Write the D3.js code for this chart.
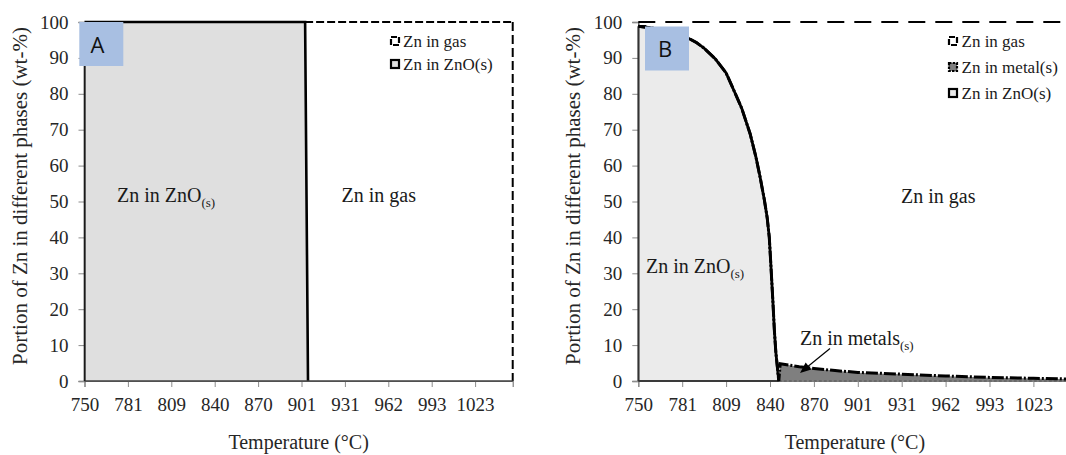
<!DOCTYPE html>
<html>
<head>
<meta charset="utf-8">
<script src="https://cdn.jsdelivr.net/npm/d3@7"></script>
</head>
<body style="margin:0;background:#fff">
<svg id="chart" width="1066" height="455" style="display:block;font-family:'Liberation Serif'"></svg>
<script>
// ---------------- DATA ----------------
const tickTemps = [750, 781, 809, 840, 870, 901, 931, 962, 993, 1023];
const endTemp = 1049;
const yTickValues = [0, 10, 20, 30, 40, 50, 60, 70, 80, 90, 100];

// Panel A
const tempsA = [750, 903.5, 905.5, 1049];
const znoA   = [100, 100, 0, 0];
const gasA   = [0, 0, 100, 100];

// Panel B
const tempsB = [750, 760, 770, 777, 784, 790, 795, 802, 809, 815, 820, 826, 830, 833, 836, 838, 839.5, 840.5, 842, 843, 844, 845, 846, 847, 855, 860, 870, 885, 901, 931, 962, 993, 1023, 1049];
const znoB   = [98.8, 98.3, 97.5, 96.8, 95.7, 94.3, 92.7, 89.8, 85.8, 80.5, 76.0, 68.8, 62.5, 56.8, 50.5, 45.5, 40.0, 33.0, 22.0, 14.0, 8.0, 4.0, 0, 0, 0, 0, 0, 0, 0, 0, 0, 0, 0, 0];
const metalB = [0, 0, 0, 0, 0, 0, 0, 0, 0, 0, 0, 0, 0, 0, 0, 0, 0, 0, 0, 0, 0, 0, 0, 4.8, 4.3, 4.0, 3.5, 2.9, 2.4, 1.9, 1.4, 1.0, 0.75, 0.55];
const gasB   = [1.2, 1.7, 2.5, 3.2, 4.3, 5.7, 7.3, 10.2, 14.2, 19.5, 24.0, 31.2, 37.5, 43.2, 49.5, 54.5, 60.0, 67.0, 78.0, 86.0, 92.0, 96.0, 100, 95.2, 95.7, 96.0, 96.5, 97.1, 97.6, 98.1, 98.6, 99.0, 99.25, 99.45];

const legendA = ["Zn in gas", "Zn in ZnO(s)"];
const legendB = ["Zn in gas", "Zn in metal(s)", "Zn in ZnO(s)"];

const yTitle = "Portion of Zn in different phases (wt-%)";
const xTitle = "Temperature (°C)";

// ---------------- DRAW ----------------
const svg = d3.select("#chart");
const SERIF = "Liberation Serif";
const TOP = 22, BOTTOM = 381;

function makeX(left, step) {
  const dom = tickTemps.concat([endTemp]);
  const rng = tickTemps.map((t, i) => left + i * step);
  rng.push(left + (9 + (endTemp - 1023) / 30) * step);
  return d3.scaleLinear().domain(dom).range(rng);
}
const y = d3.scaleLinear().domain([0, 100]).range([BOTTOM, TOP]);

function serifText(sel, size) {
  return sel.attr("font-family", SERIF).attr("font-size", size);
}

function drawAxes(g, x, left) {
  const ya = g.append("g").attr("transform", `translate(${left},0)`)
    .call(d3.axisLeft(y).tickValues(yTickValues).tickSize(6).tickPadding(10).tickFormat(d3.format("d")));
  ya.attr("font-family", SERIF).attr("font-size", 19);
  ya.select(".domain").attr("stroke", "#595959").attr("stroke-width", 1.5);
  ya.selectAll(".tick line").attr("stroke", "#8c8c8c");
  serifText(ya.selectAll(".tick text"), 19).attr("fill", "#262626");

  const xa = g.append("g").attr("transform", `translate(0,${BOTTOM})`)
    .call(d3.axisBottom(x).tickValues(tickTemps).tickSize(6).tickPadding(11).tickFormat(d3.format("d")));
  xa.attr("font-family", SERIF).attr("font-size", 19);
  xa.select(".domain").attr("stroke", "#7f7f7f").attr("stroke-width", 1.2);
  xa.selectAll(".tick line").attr("stroke", "#8c8c8c");
  serifText(xa.selectAll(".tick text"), 19).attr("fill", "#262626");
}

function titles(g, x, left) {
  const [r0, r1] = [x(750), x(endTemp)];
  serifText(g.append("text"), 20).attr("x", (r0 + r1) / 2).attr("y", 449)
    .attr("text-anchor", "middle").attr("fill", "#262626").text(xTitle);
  serifText(g.append("text"), 21).attr("transform", `translate(${left - 58},196) rotate(-90)`)
    .attr("text-anchor", "middle").attr("fill", "#262626").text(yTitle);
}

function subLabel(g, px, py, main, sub) {
  const t = serifText(g.append("text"), 20).attr("x", px).attr("y", py).attr("fill", "#1a1a1a");
  t.append("tspan").text(main);
  if (sub) t.append("tspan").attr("dy", 5).attr("font-size", 13).text(sub);
}

function panelTag(g, bx, by, letter, tx, ty) {
  g.append("rect").attr("x", bx).attr("y", by).attr("width", 44).attr("height", 44).attr("fill", "#a8bfe2");
  g.append("text").attr("font-family", "Open Sans").attr("font-size", 22)
    .attr("x", tx).attr("y", ty).attr("text-anchor", "middle").attr("fill", "#111").text(letter);
}

function legendMarker(g, mx, my, kind, znoFill) {
  const r = g.append("rect").attr("x", mx).attr("y", my).attr("width", 8).attr("height", 8)
    .attr("stroke", "#000").attr("stroke-width", 2.2);
  if (kind === "gas") r.attr("fill", "#fff").attr("stroke-dasharray", "6,2");
  else if (kind === "metal") r.attr("fill", "#7f7f7f").attr("stroke-dasharray", "2.5,1.2");
  else r.attr("fill", znoFill);
}

// ================= PANEL A =================
{
  const left = 84.5, step = 43.4;
  const x = makeX(left, step);
  const g = svg.append("g");
  const rows = tempsA.map((t, i) => ({ t, zno: znoA[i], gas: gasA[i] }));
  const stacked = d3.stack().keys(["zno", "gas"])(rows);
  const area = d3.area().x(d => x(d.data.t)).y0(d => y(d[0])).y1(d => y(d[1]));
  const fills = { zno: "#dfdfdf", gas: "#ffffff" };
  stacked.forEach(s => g.append("path").attr("d", area(s)).attr("fill", fills[s.key]));

  drawAxes(g, x, left);

  const gasS = stacked[1];
  const gasTop = d3.line().x(d => x(d.data.t)).y(d => y(d[1]));
  g.append("path").attr("d", gasTop(gasS.filter(d => d.data.t >= 903.5)))
    .attr("fill", "none").attr("stroke", "#000").attr("stroke-width", 2).attr("stroke-dasharray", "8,3");
  const lastA = gasS[gasS.length - 1];
  g.append("path").attr("d", d3.line()([[x(lastA.data.t), y(lastA[1])], [x(lastA.data.t), y(lastA[0])]]))
    .attr("fill", "none").attr("stroke", "#000").attr("stroke-width", 2).attr("stroke-dasharray", "9,4");

  const znoS = stacked[0];
  const znoTop = d3.line().x(d => x(d.data.t)).y(d => y(d[1]));
  g.append("path").attr("d", znoTop(znoS.filter(d => d.data.t <= 905.5)))
    .attr("fill", "none").attr("stroke", "#000").attr("stroke-width", 2.6);
  g.append("path").attr("d", d3.line()([[x(750), y(0)], [x(endTemp), y(0)]]))
    .attr("fill", "none").attr("stroke", "#404040").attr("stroke-width", 1.6);
  g.append("path").attr("d", d3.line()([[x(750), y(0)], [x(750), y(100)]]))
    .attr("fill", "none").attr("stroke", "#1a1a1a").attr("stroke-width", 1.6);

  panelTag(g, 79.3, 22, "A", 97.5, 53.3);

  subLabel(g, 117, 202, "Zn in ZnO", "(s)");
  subLabel(g, 341.5, 202, "Zn in gas", null);

  const ly = [41, 64];
  legendA.forEach((name, i) => {
    legendMarker(g, 391, ly[i] - 4, i === 0 ? "gas" : "zno", "#dfdfdf");
    serifText(g.append("text"), 17).attr("x", 403).attr("y", ly[i] + 5.5)
      .attr("fill", "#1a1a1a").text(name);
  });

  titles(g, x, left);
}

// ================= PANEL B =================
{
  const left = 638.3, step = 43.9;
  const x = makeX(left, step);
  const g = svg.append("g");
  const rows = tempsB.map((t, i) => ({ t, zno: znoB[i], metal: metalB[i], gas: gasB[i] }));
  const stacked = d3.stack().keys(["zno", "metal", "gas"])(rows);
  const area = d3.area().x(d => x(d.data.t)).y0(d => y(d[0])).y1(d => y(d[1]));
  const fills = { zno: "#ebebeb", metal: "#7f7f7f", gas: "#ffffff" };
  stacked.forEach(s => g.append("path").attr("d", area(s)).attr("fill", fills[s.key]));

  drawAxes(g, x, left);

  const [znoS, metalS, gasS] = stacked;
  const topLine = d3.line().x(d => x(d.data.t)).y(d => y(d[1]));

  g.append("path").attr("d", topLine(gasS))
    .attr("fill", "none").attr("stroke", "#000").attr("stroke-width", 2).attr("stroke-dasharray", "17,10");
  g.append("path").attr("d", d3.line()([[x(750), y(znoB[0])], [x(750) + 8, y(znoB[0])]]))
    .attr("fill", "none").attr("stroke", "#000").attr("stroke-width", 2.5);

  g.append("path").attr("d", topLine(znoS.filter(d => d.data.t <= 846)))
    .attr("fill", "none").attr("stroke", "#000").attr("stroke-width", 2.8);
  g.append("path").attr("d", d3.line()([[x(750), y(0)], [x(846), y(0)]]))
    .attr("fill", "none").attr("stroke", "#3a3a3a").attr("stroke-width", 1.8);
  g.append("path").attr("d", d3.line()([[x(750), y(0)], [x(750), y(znoB[0])]]))
    .attr("fill", "none").attr("stroke", "#333").attr("stroke-width", 1.8);

  g.append("path").attr("d", d3.line()([[x(846), y(0)], [x(endTemp), y(0)]]))
    .attr("fill", "none").attr("stroke", "#555").attr("stroke-width", 1.2).attr("stroke-dasharray", "3,2");
  g.append("path").attr("d", d3.line()([[x(846), y(0)], [x(846), y(metalB[23])]]))
    .attr("fill", "none").attr("stroke", "#333").attr("stroke-width", 1.2).attr("stroke-dasharray", "2,2");
  g.append("path").attr("d", topLine(metalS))
    .attr("fill", "none").attr("stroke", "#000").attr("stroke-width", 3).attr("stroke-dasharray", "12,2,2,2");

  panelTag(g, 645, 26.5, "B", 665, 57.3);

  subLabel(g, 646, 272.5, "Zn in ZnO", "(s)");
  subLabel(g, 901, 203, "Zn in gas", null);
  subLabel(g, 800, 345, "Zn in metals", "(s)");

  const ax0 = 830, ay0 = 348.5, ax1 = 800, ay1 = 373;
  g.append("line").attr("x1", ax0).attr("y1", ay0).attr("x2", ax1 + 6).attr("y2", ay1 - 5)
    .attr("stroke", "#000").attr("stroke-width", 1.2);
  const ang = Math.atan2(ay1 - ay0, ax1 - ax0);
  const hl = 11, hw = 4.5;
  const bx = ax1 - hl * Math.cos(ang), by = ay1 - hl * Math.sin(ang);
  g.append("path").attr("d", `M${ax1},${ay1}L${bx + hw * Math.sin(ang)},${by - hw * Math.cos(ang)}L${bx - hw * Math.sin(ang)},${by + hw * Math.cos(ang)}Z`)
    .attr("fill", "#000");

  const ly = [41, 67, 93];
  const kinds = ["gas", "metal", "zno"];
  legendB.forEach((name, i) => {
    legendMarker(g, 949, ly[i] - 4, kinds[i], "#ebebeb");
    serifText(g.append("text"), 17).attr("x", 961.5).attr("y", ly[i] + 5.5)
      .attr("fill", "#1a1a1a").text(name);
  });

  titles(g, x, left);
}
</script>
</body>
</html>
